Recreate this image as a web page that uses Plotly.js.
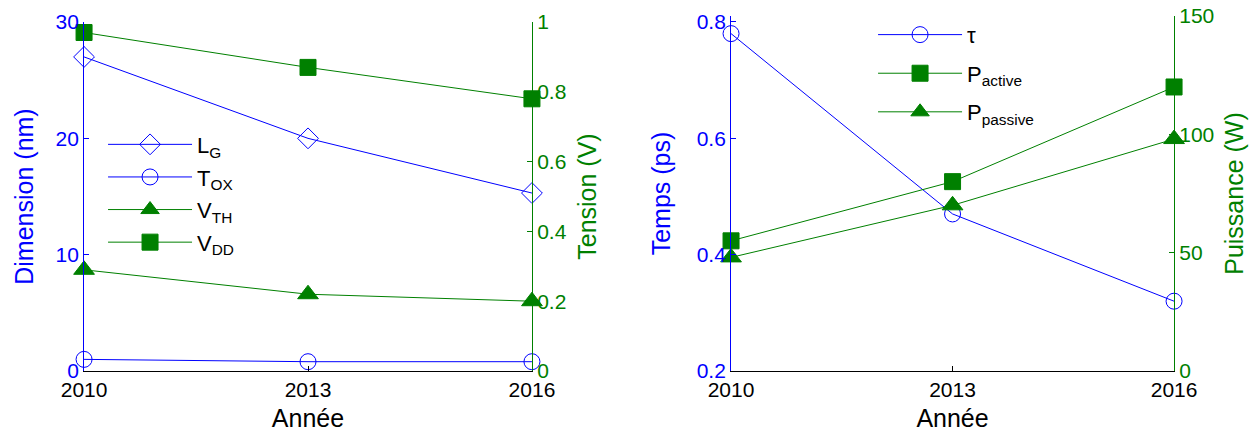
<!DOCTYPE html>
<html>
<head>
<meta charset="utf-8">
<script src="https://cdn.plot.ly/plotly-3.0.1.min.js"></script>
<style>html,body{margin:0;padding:0;background:#fff;}#chart{width:1249px;height:432px;}</style>
</head>
<body>
<div id="chart"></div>
<script>
// ---- data ----
const years = [2010, 2013, 2016];
const yearTicks = ['2010', '2013', '2016'];
// left chart
const lg = [27, 20, 15.3];      // nm
const tox = [1.0, 0.8, 0.8];    // nm
const vth = [0.29, 0.22, 0.2];  // V
const vdd = [0.97, 0.87, 0.78]; // V
// right chart
const tau = [0.78, 0.47, 0.32];   // ps
const pActive = [55, 80, 120];    // W
const pPassive = [48, 70, 98];    // W

const BLUE = '#0000ff';
const GREEN = '#008000';
const FONT = 'Liberation Sans, Arial, sans-serif';

function tr(x, y, name, color, symbol, size, xa, ya, legend) {
  return {
    x: x, y: y, name: name, type: 'scatter', mode: 'lines+markers',
    xaxis: xa, yaxis: ya, legend: legend, legendgroup: name,
    line: {color: color, width: 1},
    marker: {symbol: symbol, size: size, color: color, line: {color: color, width: 1}},
    cliponaxis: false
  };
}

const data = [
  tr(years, lg, 'L<sub>G</sub>', BLUE, 'diamond-open', 16, 'x', 'y', 'legend'),
  tr(years, tox, 'T<sub>OX</sub>', BLUE, 'circle-open', 16, 'x', 'y', 'legend'),
  tr(years, vth, 'V<sub>TH</sub>', GREEN, 'triangle-up', 18, 'x', 'y2', 'legend'),
  tr(years, vdd, 'V<sub>DD</sub>', GREEN, 'square', 16, 'x', 'y2', 'legend'),
  tr(years, tau, 'τ', BLUE, 'circle-open', 16, 'x2', 'y3', 'legend2'),
  tr(years, pActive, 'P<sub>active</sub>', GREEN, 'square', 16, 'x2', 'y4', 'legend2'),
  tr(years, pPassive, 'P<sub>passive</sub>', GREEN, 'triangle-up', 18, 'x2', 'y4', 'legend2')
];

const tickFont = (c) => ({family: FONT, size: 21, color: c});
const titleFont = (c) => ({family: FONT, size: 25, color: c});

function xax(domain, anchor) {
  return {
    domain: domain, anchor: anchor, range: [2010, 2016],
    tickmode: 'array', tickvals: years, ticktext: yearTicks,
    ticks: 'inside', ticklen: 5, tickcolor: '#000',
    showline: true, linecolor: '#000', linewidth: 1, mirror: false,
    showgrid: false, zeroline: false,
    tickfont: tickFont('#000'),
    title: {text: 'Année', font: titleFont('#000'), standoff: 14}
  };
}
function yax(o) {
  return Object.assign({
    ticks: 'inside', ticklen: 5, showline: true, linewidth: 1,
    showgrid: false, zeroline: false
  }, o);
}

const layout = {
  width: 1249, height: 432,
  margin: {l: 0, r: 0, t: 0, b: 0},
  paper_bgcolor: '#fff', plot_bgcolor: 'rgba(0,0,0,0)',
  font: {family: FONT},
  showlegend: true,
  xaxis: xax([0.0673, 0.4259], 'y'),
  xaxis2: xax([0.5853, 0.9400], 'y3'),
  yaxis: yax({
    domain: [0.1412, 0.949], anchor: 'x', side: 'left', range: [0, 30],
    tickvals: [0, 10, 20, 30], linecolor: BLUE, tickcolor: BLUE,
    tickfont: tickFont(BLUE),
    title: {text: 'Dimension (nm)', font: titleFont(BLUE), standoff: 14}
  }),
  yaxis2: yax({
    overlaying: 'y', anchor: 'x', side: 'right', range: [0, 1],
    tickvals: [0, 0.2, 0.4, 0.6, 0.8, 1], ticktext: ['0', '0.2', '0.4', '0.6', '0.8', '1'],
    linecolor: GREEN, tickcolor: GREEN, tickfont: tickFont(GREEN),
    title: {text: 'Tension (V)', font: titleFont(GREEN), standoff: 12}
  }),
  yaxis3: yax({
    domain: [0.1412, 0.963], anchor: 'x2', side: 'left', range: [0.2, 0.8103],
    tickvals: [0.2, 0.4, 0.6, 0.8], ticktext: ['0.2', '0.4', '0.6', '0.8'],
    linecolor: BLUE, tickcolor: BLUE, tickfont: tickFont(BLUE),
    title: {text: 'Temps (ps)', font: titleFont(BLUE), standoff: 18}
  }),
  yaxis4: yax({
    overlaying: 'y3', anchor: 'x2', side: 'right', range: [0, 150],
    tickvals: [0, 50, 100, 150],
    linecolor: GREEN, tickcolor: GREEN, tickfont: tickFont(GREEN),
    title: {text: 'Puissance (W)', font: titleFont(GREEN), standoff: 12}
  }),
  legend: {
    x: 0.0825, y: 0.714, xanchor: 'left', yanchor: 'top',
    bgcolor: 'rgba(0,0,0,0)', borderwidth: 0,
    font: {family: FONT, size: 22, color: '#000'},
    tracegroupgap: 1, itemwidth: 84
  },
  legend2: {
    x: 0.699, y: 0.968, xanchor: 'left', yanchor: 'top',
    bgcolor: 'rgba(0,0,0,0)', borderwidth: 0,
    font: {family: FONT, size: 22, color: '#000'},
    tracegroupgap: 7, itemwidth: 84
  }
};

Plotly.newPlot('chart', data, layout, {staticPlot: true, displayModeBar: false});
</script>
</body>
</html>
